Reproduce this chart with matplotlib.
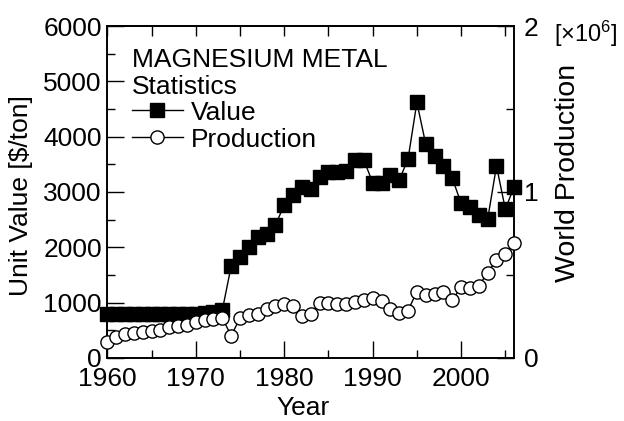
import matplotlib
matplotlib.use("Agg")
import matplotlib.pyplot as plt
from matplotlib.lines import Line2D
from matplotlib.ticker import MultipleLocator, NullFormatter

plt.rcParams['font.family'] = ['Liberation Sans', 'DejaVu Sans']
plt.rcParams['mathtext.fontset'] = 'custom'
plt.rcParams['mathtext.rm'] = 'Liberation Sans'

# data
years = list(range(1960, 2007))
value = [800, 800, 800, 800, 800, 800, 800, 800, 800, 800,
         800, 810, 830, 860, 1660, 1820, 2010, 2180, 2240, 2400,
         2765, 2945, 3095, 3050, 3265, 3370, 3370, 3375, 3580, 3580,
         3170, 3155, 3305, 3215, 3595, 4620, 3865, 3650, 3470, 3250,
         2795, 2735, 2585, 2505, 3470, 2690, 3095]
production = [0.098, 0.125, 0.143, 0.149, 0.155, 0.163, 0.169, 0.183, 0.189, 0.199,
              0.219, 0.229, 0.233, 0.241, 0.133, 0.240, 0.256, 0.265, 0.293, 0.313,
              0.323, 0.313, 0.255, 0.263, 0.329, 0.329, 0.325, 0.325, 0.339, 0.349,
              0.360, 0.342, 0.296, 0.269, 0.285, 0.400, 0.380, 0.384, 0.400, 0.349,
              0.426, 0.420, 0.434, 0.514, 0.590, 0.625, 0.690]
legend_title = ['MAGNESIUM METAL', 'Statistics']
legend_labels = ['Value', 'Production']

fs = 19
ms = 9.5

fig = plt.figure(figsize=(6.24, 4.21), dpi=100)
ax = fig.add_axes([0.172, 0.150, 0.652, 0.788])
ax2 = ax.twinx()

ax.plot(years, value, color='black', lw=1, marker='s', ms=ms,
        mfc='black', mec='black', zorder=3, clip_on=False)
ax2.plot(years, production, color='black', lw=1, marker='o', ms=ms,
         mfc='white', mec='black', mew=1, zorder=3, clip_on=False)

ax.set_xlim(1960, 2006)
ax.set_ylim(0, 6000)
ax2.set_ylim(0, 2)

ax.xaxis.set_major_locator(MultipleLocator(10))
ax.xaxis.set_minor_locator(MultipleLocator(5))
ax.yaxis.set_major_locator(MultipleLocator(1000))
ax.yaxis.set_minor_locator(MultipleLocator(500))
ax2.yaxis.set_major_locator(MultipleLocator(1))
ax2.yaxis.set_minor_locator(MultipleLocator(0.5))

ax.tick_params(axis='both', which='major', direction='in', length=12, width=1,
               labelsize=fs)
ax.tick_params(axis='both', which='minor', direction='in', length=6, width=1)
ax.tick_params(axis='x', which='both', pad=6.5)
ax.tick_params(axis='y', which='both', pad=4)
ax2.tick_params(axis='y', which='major', direction='in', length=12, width=1,
                labelsize=fs, pad=7)
ax2.tick_params(axis='y', which='minor', direction='in', length=6, width=1)

# top axis: short ticks every 5 years, no labels
top = ax.secondary_xaxis('top')
top.xaxis.set_major_locator(MultipleLocator(5))
top.xaxis.set_major_formatter(NullFormatter())
top.tick_params(direction='in', length=7, width=1)
top.spines['top'].set_linewidth(1.2)

for a in (ax, ax2):
    for s in a.spines.values():
        s.set_linewidth(1.2)

ax.set_xlabel('Year', fontsize=fs)
ax.xaxis.set_label_coords(0.48, -0.116)
ax.set_ylabel(r'Unit Value [\$/ton]', fontsize=fs)
ax.yaxis.set_label_coords(-0.183, 0.49)
ax2.set_ylabel('World Production', fontsize=20.5, rotation=90)
ax2.yaxis.set_label_coords(1.10, 0.557)
fig.text(0.938, 0.92, r'[$\mathregular{\times 10^6}$]', fontsize=17,
         ha='center', va='center')

# legend block drawn by hand to get the tight line spacing
fig.text(0.211, 0.8416, legend_title[0], fontsize=fs, va='baseline')
fig.text(0.211, 0.7767, legend_title[1], fontsize=fs, va='baseline')
fig.text(0.3055, 0.715, legend_labels[0], fontsize=fs, va='baseline')
fig.text(0.3055, 0.6516, legend_labels[1], fontsize=fs, va='baseline')
fig.add_artist(Line2D([0.211, 0.2938], [0.7387, 0.7387], color='black', lw=1))
fig.add_artist(Line2D([0.2521], [0.7387], marker='s', ms=ms,
                      mfc='black', mec='black', color='black'))
fig.add_artist(Line2D([0.211, 0.2938], [0.6753, 0.6753], color='black', lw=1))
fig.add_artist(Line2D([0.2521], [0.6753], marker='o', ms=ms,
                      mfc='white', mec='black', color='black'))

fig.savefig('out.png', dpi=100)
